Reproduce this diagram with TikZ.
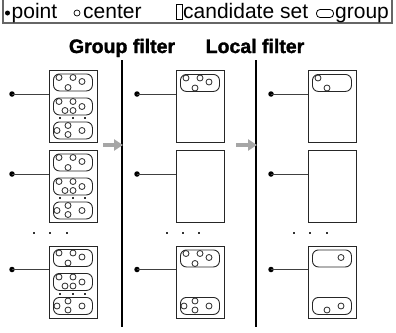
\documentclass[tikz,border=0pt]{standalone}
\usepackage{fontspec}
\setmainfont{Liberation Sans}
\newfontfamily\heavyfont{Liberation Sans}[BoldFeatures={FakeBold=1.6}]
\usetikzlibrary{arrows.meta}
\tikzset{
  cbox/.style={draw=black!85, line width=0.9pt, minimum width=48pt, minimum height=72pt, inner sep=0pt, anchor=north west},
  grp/.style={draw=black!85, line width=0.9pt, rounded corners=6pt, minimum width=39pt, minimum height=17pt, inner sep=0pt, anchor=north west},
  ctr/.style={draw=black!85, fill=white, line width=0.8pt},
  pt/.style={circle, fill=black, inner sep=0pt, minimum size=5.5pt},
  conn/.style={draw=black!75, line width=0.9pt},
  tinydot/.style={fill=black!80, inner sep=0pt, minimum size=2pt},
  garrow/.style={draw=black!35, line width=3.5pt, -{Triangle[length=9pt,width=11pt]}},
  vline/.style={draw=black, line width=2pt},
  ttl/.style={font=\fontsize{19.5}{22}\heavyfont\bfseries, inner sep=0pt, anchor=base},
  leg/.style={font=\fontsize{21}{24}\selectfont, inner sep=0pt, anchor=base west}
}
\newcommand\mkgroup[4]{%
  \node[grp] (#1) at (#2,#3) {};
  \foreach \a/\b in {#4} \draw[ctr] ([shift={(\a,\b)}]#1.north west) circle[radius=3];
}
\begin{document}
\begin{tikzpicture}[x=1pt,y=-1pt]
\useasboundingbox (0,0) rectangle (396,332);
% legend
\draw[draw=black!60, line width=1.4pt] (3,-3) rectangle (392,23);
\node[pt, minimum size=5pt] (lp) at (7.5,13) {};
\node[leg] (lpt) at (11.5,18) {point};
\node[circle, draw=black, line width=0.7pt, inner sep=0pt, minimum size=6pt] (lc) at (77,13) {};
\node[leg] (lct) at (83,18) {center};
\node[draw=black, line width=0.6pt, minimum width=6pt, minimum height=15pt, inner sep=0pt] (lb) at (179,11.5) {};
\node[leg] (lbt) at (183,18) {candidate set};
\node[draw=black, line width=0.8pt, rounded corners=3.5pt, minimum width=17pt, minimum height=8pt, inner sep=0pt] (lg) at (325,13.5) {};
\node[leg] (lgt) at (335,18) {group};
% titles
\node[ttl] (t1) at (122,53) {Group filter};
\node[ttl] (t2) at (255,53) {Local filter};
% vertical lines
\coordinate (v1a) at (122,60); \coordinate (v1b) at (122,327);
\coordinate (v2a) at (256,60); \coordinate (v2b) at (256,327);
\draw[vline] (v1a) -- (v1b);
\draw[vline] (v2a) -- (v2b);
% arrows
\coordinate (a1s) at (103,145); \coordinate (a1e) at (123,145);
\coordinate (a2s) at (236,145); \coordinate (a2e) at (257,145);
\draw[garrow] (a1s) -- (a1e);
\draw[garrow] (a2s) -- (a2e);
% column 1
\foreach \r/\t in {1/70,2/150,3/245.5}{
  \node[cbox] (b1\r) at (49,\t) {};
}
\mkgroup{g11a}{53}{73.5}{6/4,20/4,29/8,15/14}
\mkgroup{g11b}{53}{97.5}{6/4,20/4,12/13,20/13,29/9}
\mkgroup{g11c}{53}{121.5}{4/9,15/4,15/13,29/9}
\mkgroup{g12a}{53}{153.5}{6/4,20/4,29/8,15/14}
\mkgroup{g12b}{53}{177.5}{6/4,20/4,12/13,20/13,29/9}
\mkgroup{g12c}{53}{201.5}{4/9,15/4,15/13,29/9}
\mkgroup{g13a}{53}{249}{6/4,20/4,29/8,15/14}
\mkgroup{g13b}{53}{273}{6/4,20/4,12/13,20/13,29/9}
\mkgroup{g13c}{53}{297}{4/9,15/4,15/13,29/9}
\foreach \yy/\n in {118/1,198/2,293.5/3}{
  \node[tinydot] (d\n a) at (60,\yy) {};
  \node[tinydot] (d\n b) at (73,\yy) {};
  \node[tinydot] (d\n c) at (85,\yy) {};
}
% column 2
\foreach \r/\t in {1/70,2/150,3/245.5}{
  \node[cbox] (b2\r) at (176,\t) {};
}
\mkgroup{g21a}{180}{74}{6/4,20/4,29/8,15/14}
\mkgroup{g23a}{180}{249.5}{6/4,20/4,29/8,15/14}
\mkgroup{g23c}{180}{297}{4/9,15/4,15/13,29/9}
% column 3
\foreach \r/\t in {1/70,2/150,3/245.5}{
  \node[cbox] (b3\r) at (308,\t) {};
}
\mkgroup{g31a}{312}{74}{6/4,15/14}
\mkgroup{g33a}{312}{249.5}{29/8}
\mkgroup{g33c}{312}{297}{15/13,29/9}
% points and connectors
\foreach \c/\px in {1/12,2/137,3/271}{
  \foreach \r/\py in {1/94,2/174,3/269.5}{
    \node[pt] (p\c\r) at (\px,\py) {};
    \draw[conn] (p\c\r.center) -- (p\c\r -| b\c\r.west);
  }
}
% ellipsis between rows
\foreach \c/\xa/\xb/\xc in {1/34/50/67,2/167/183/199,3/294/310/327}{
  \node[tinydot] (e\c a) at (\xa,233) {};
  \node[tinydot] (e\c b) at (\xb,233) {};
  \node[tinydot] (e\c c) at (\xc,233) {};
}
\end{tikzpicture}
\end{document}
